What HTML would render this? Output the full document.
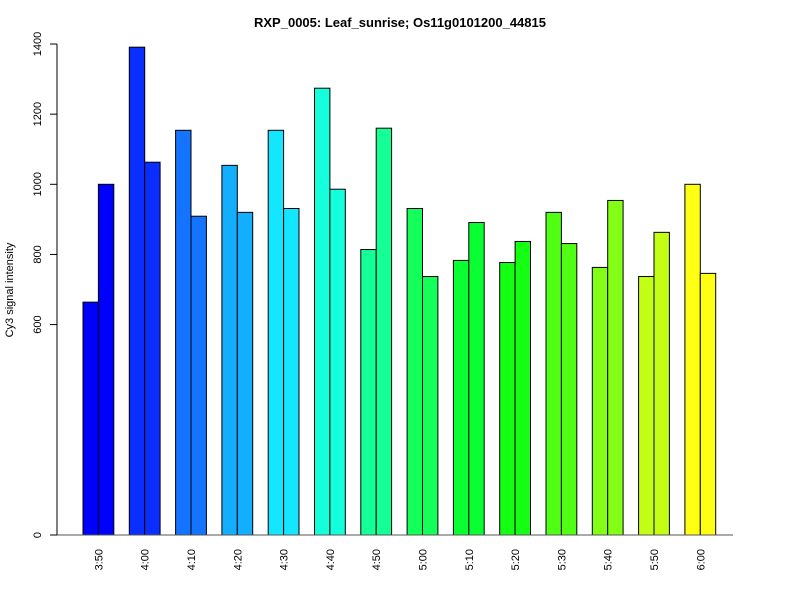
<!DOCTYPE html>
<html><head><meta charset="utf-8"><style>
body{margin:0;background:#fff;font-family:"Liberation Sans",sans-serif}
svg{display:block}
</style></head><body>
<svg id="chart" width="800" height="600">
<text x="400" y="27" text-anchor="middle" font-size="13" font-weight="bold">RXP_0005: Leaf_sunrise; Os11g0101200_44815</text>
<text transform="translate(13,290) rotate(-90)" text-anchor="middle" font-size="11">Cy3 signal intensity</text>
<g id="bars"></g>
<g id="axes"></g>
</svg>
<script>
const categories=["3:50","4:00","4:10","4:20","4:30","4:40","4:50","5:00","5:10","5:20","5:30","5:40","5:50","6:00"];
const series1=[664,1391,1154,1054,1154,1274,814,931,783,777,920,763,737,1000];
const series2=[1000,1063,909,920,931,986,1160,737,891,837,831,954,863,746];
const colors=["#0000FF","#0A2EFF","#1473FF","#14AEFF","#14E6FF","#14FFDC","#14FF96","#14FF5A","#0AFF32","#14FF14","#50FF14","#82FF14","#C3FF14","#FFFF14"];
const yTicks=[0,600,800,1000,1200,1400];
const NS="http://www.w3.org/2000/svg";
const y=v=>535-v*0.3507;
const gx=i=>83+i*46.3;
const bars=document.getElementById('bars'),axes=document.getElementById('axes');
function mk(t,a,p){const e=document.createElementNS(NS,t);for(const k in a)e.setAttribute(k,a[k]);p.appendChild(e);return e;}
mk('line',{x1:50,x2:733,y1:535,y2:535,stroke:'#555'},axes);
categories.forEach((c,i)=>{
  [series1[i],series2[i]].forEach((v,j)=>{
    const r=mk('rect',{x:gx(i)+j*15.4,y:y(v),width:15.4,height:535-y(v),fill:colors[i],stroke:'#000','stroke-width':1},bars);
    
    
  });
  const cx=gx(i)+15.4;
  const t=mk('text',{transform:`translate(${cx+4},549) rotate(-90)`,'text-anchor':'end','font-size':11},axes);
  t.textContent=c;
  
  
});
mk('line',{x1:57,x2:57,y1:y(0),y2:y(1400),stroke:'#000'},axes);
yTicks.forEach(v=>{
  mk('line',{x1:50,x2:57,y1:y(v),y2:y(v),stroke:'#000'},axes);
  const t=mk('text',{transform:`translate(41,${y(v)}) rotate(-90)`,'text-anchor':'middle','font-size':11},axes);
  t.textContent=v;
  
  
});
</script>
</body></html>
